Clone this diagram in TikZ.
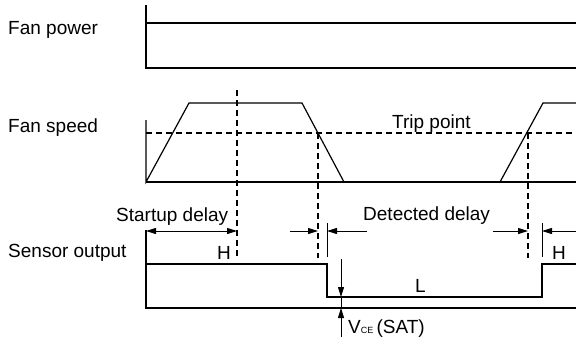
\documentclass[tikz,border=0pt]{standalone}
\usepackage{fontspec}
\setmainfont{Liberation Sans}
\usetikzlibrary{arrows.meta}
\begin{document}
\begin{tikzpicture}[x=1pt,y=-1pt,
  sig/.style={line width=1.2pt, line join=miter},
  dline/.style={dash pattern=on 6pt off 4pt, line width=1.2pt},
  dim/.style={-{Triangle[length=10pt,width=6pt]}, line width=1pt},
  ext/.style={line width=1pt},
  lbl/.style={anchor=base west, inner sep=0pt, font=\fontsize{19}{21}\selectfont}]
\useasboundingbox (0,0) rectangle (576,341);

% labels
\node[lbl] (lpow) at (8,34) {Fan power};
\node[lbl] (lspd) at (8,132) {Fan speed};
\node[lbl] (lsen) at (8,257) {Sensor output};

% Fan power
\coordinate (p0) at (146,5);
\coordinate (p1) at (146,68);
\coordinate (p2) at (576,68);
\coordinate (p3) at (146,23);
\coordinate (p4) at (576,23);
\draw[sig] (p0) -- (p1) -- (p2);
\draw[sig] (p3) -- (p4);

% Fan speed
\coordinate (s0) at (146,120);
\coordinate (s1) at (146,182);
\coordinate (s2) at (189,103);
\coordinate (s3) at (302,103);
\coordinate (s4) at (344,182);
\coordinate (s5) at (500,182);
\coordinate (s6) at (543,103);
\coordinate (s7) at (576,103);
\coordinate (s8) at (576,182);
\draw[sig] (s0) -- (s1) -- (s2) -- (s3) -- (s4) -- (s5) -- (s6) -- (s7);
\draw[sig] (s1) -- (s8);
\coordinate (t0) at (146,133);
\coordinate (t1) at (576,133);
\draw[dline] (t0) -- (t1);
\node[lbl] (trip) at (392,128) {Trip point};

% vertical dashed markers
\coordinate (d1a) at (237,90);
\coordinate (d1b) at (237,258);
\coordinate (d2a) at (318,133);
\coordinate (d2b) at (318,258);
\coordinate (d3a) at (528,133);
\coordinate (d3b) at (528,258);
\draw[dline] (d1a) -- (d1b);
\draw[dline] (d2a) -- (d2b);
\draw[dline] (d3a) -- (d3b);

% Sensor output
\coordinate (o0) at (146,230);
\coordinate (o1) at (146,308);
\coordinate (o2) at (576,308);
\coordinate (o3) at (146,264);
\coordinate (o4) at (327,264);
\coordinate (o5) at (327,297);
\coordinate (o6) at (542,297);
\coordinate (o7) at (542,264);
\coordinate (o8) at (576,264);
\draw[sig] (o0) -- (o1) -- (o2);
\draw[sig] (o3) -- (o4) -- (o5) -- (o6) -- (o7) -- (o8);

% Startup delay
\coordinate (sa) at (146,231);
\coordinate (sb) at (237,231);
\draw[dim, {Triangle[length=10pt,width=6pt]}-{Triangle[length=10pt,width=6pt]}] (sa) -- (sb);
\node[lbl] (sud) at (116,221) {Startup delay};
\node[lbl] (h1) at (217,259) {H};

% Detected delay
\coordinate (e1a) at (327,223);
\coordinate (e1b) at (327,257);
\coordinate (e2a) at (542,223);
\coordinate (e2b) at (542,257);
\draw[ext] (e1a) -- (e1b);
\draw[ext] (e2a) -- (e2b);
\coordinate (a1) at (290,231);
\coordinate (a2) at (318,231);
\coordinate (a3) at (367,231);
\coordinate (a4) at (327,231);
\coordinate (a5) at (493,231);
\coordinate (a6) at (528,231);
\coordinate (a7) at (576,231);
\coordinate (a8) at (542,231);
\draw[dim] (a1) -- (a2);
\draw[dim] (a3) -- (a4);
\draw[dim] (a5) -- (a6);
\draw[dim] (a7) -- (a8);
\node[lbl] (dd) at (363,220) {Detected delay};
\node[lbl] (h2) at (552,259) {H};
\node[lbl] (ll) at (415,292) {L};

% VCE(SAT)
\coordinate (v0) at (341,259);
\coordinate (v1) at (341,297);
\coordinate (v2) at (341,337);
\coordinate (v3) at (341,308);
\draw[dim] (v0) -- (v1);
\draw[dim] (v2) -- (v3);
\draw[ext] (v1) -- (v3);
\node[lbl] (vce) at (348,333) {V{\fontsize{9}{10}\selectfont CE}\,(SAT)};
\end{tikzpicture}
\end{document}
